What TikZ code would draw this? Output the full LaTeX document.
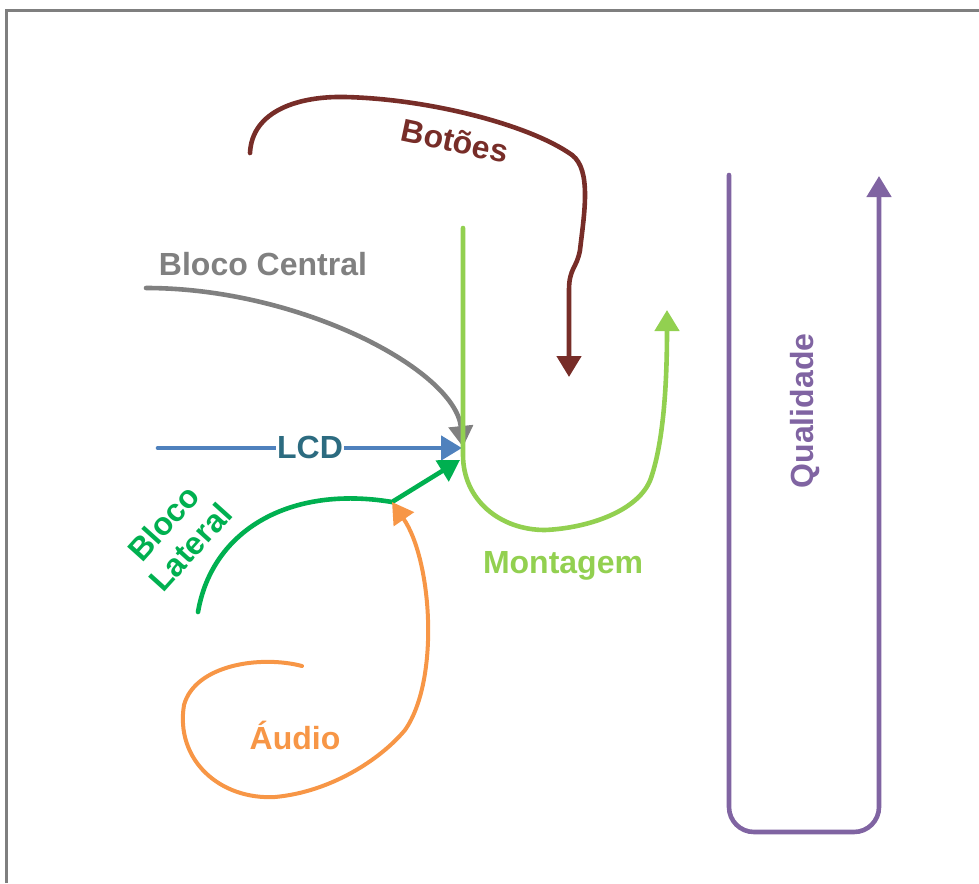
\documentclass[tikz,border=0pt]{standalone}
\usepackage{fontspec}
\setmainfont{Liberation Sans}
\usetikzlibrary{arrows.meta}
\definecolor{cBotoes}{HTML}{772D28}
\definecolor{cCentral}{HTML}{808080}
\definecolor{cLCD}{HTML}{4F81BD}
\definecolor{cLCDtext}{HTML}{2C6B80}
\definecolor{cMontagem}{HTML}{92D050}
\definecolor{cLateral}{HTML}{00B050}
\definecolor{cAudio}{HTML}{F79646}
\definecolor{cQual}{HTML}{8064A2}
\definecolor{cFrame}{HTML}{7F7F7F}
\begin{document}
\begin{tikzpicture}[x=1pt,y=-1pt,
  lbl/.style={font=\fontsize{32}{37}\selectfont\bfseries, inner sep=0pt},
  stroke/.style={line width=4.6pt, line cap=round},
  flow/.style={stroke, -{Triangle[width=24pt,length=21pt]}}]
\useasboundingbox (0,0) rectangle (979,883);

% frame along the top and left edges
\draw[cFrame, line width=3pt] (6,883) -- (6,11) -- (979,11);

% meeting point of the incoming flows
\coordinate (hub) at (463,447);
\coordinate (hubL) at (460,460);

% Botões
\coordinate (botA) at (250,153);
\coordinate (botB) at (569,377);
\draw[flow, cBotoes] (botA) .. controls (252,110) and (300,96) .. (345,97)
  .. controls (430,99) and (530,125) .. (572,155)
  .. controls (592,170) and (584,215) .. (580,250)
  .. controls (577,268) and (569,268) .. (569,290) -- (botB);
\node[lbl, cBotoes, rotate=-12] (tBot) at (455,141) {Botões};

% Bloco Central
\coordinate (cenA) at (146,288);
\draw[flow, cCentral] (cenA) .. controls (300,288) and (455,370) .. (hub);
\node[lbl, cCentral] (tCen) at (263,264) {Bloco Central};

% LCD
\coordinate (lcdA) at (158,448);
\draw[flow, cLCD] (lcdA) -- (462,448);
\node[lbl, cLCDtext, fill=white, inner xsep=1pt] (tLCD) at (310,447) {LCD};

% Montagem
\coordinate (monA) at (463,228);
\coordinate (monB) at (667,310);
\draw[flow, cMontagem] (monA) -- (463,455)
  .. controls (463,500) and (500,530) .. (545,530)
  .. controls (590,528) and (640,510) .. (651,478)
  .. controls (664,440) and (667,380) .. (monB);
\node[lbl, cMontagem] (tMon) at (563,566) {Montagem};

% Bloco Lateral
\coordinate (latA) at (198,612);
\coordinate (latJ) at (392,502);
\draw[flow, cLateral] (latA) .. controls (212,530) and (290,485) .. (latJ) -- (hubL);
\node[lbl, cLateral, rotate=48, align=center, font=\fontsize{32}{36}\selectfont\bfseries]
  (tLat) at (177,535) {Bloco\\Lateral};

% Áudio
\coordinate (audA) at (302,666);
\draw[flow, cAudio, line width=4pt] (audA) .. controls (260,655) and (195,665) .. (184,705)
  .. controls (175,760) and (220,800) .. (275,797)
  .. controls (330,792) and (380,760) .. (405,730)
  .. controls (440,680) and (432,560) .. (latJ);
\node[lbl, cAudio] (tAud) at (295,735) {Áudio};

% Qualidade
\coordinate (qA) at (729,175);
\coordinate (qB) at (879,176);
\draw[flow, cQual, rounded corners=25pt] (qA) -- (729,832) -- (879,832) -- (qB);
\node[lbl, cQual, rotate=90] (tQual) at (805,411) {Qualidade};
\end{tikzpicture}
\end{document}
